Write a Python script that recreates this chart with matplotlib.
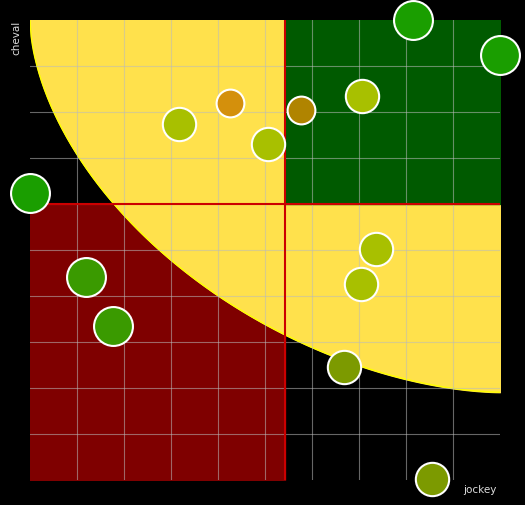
import numpy as np
import matplotlib
matplotlib.use("Agg")
import matplotlib.pyplot as plt

jockey = [8.15, 10.0, 7.06, 5.77, 4.26, 3.17, 5.06, 0.0, 1.19, 1.77, 7.36, 7.04, 6.68, 8.55]
cheval = [10.0, 9.24, 8.35, 8.04, 8.20, 7.74, 7.30, 6.24, 4.41, 3.35, 5.02, 4.26, 2.46, 0.02]
colors = ["#1a9e00", "#1a9e00", "#a8c000", "#b08400", "#d4900c", "#a8c000", "#a8c000",
          "#1a9e00", "#3a9a00", "#3a9a00", "#a8c000", "#a8c000", "#7c9a00", "#7c9a00"]
sizes = [14, 14, 12, 10, 10, 12, 12, 14, 14, 14, 12, 12, 12, 12]
x_split = 5.43
y_split = 6.0

fig = plt.figure(figsize=(5.25, 5.05), dpi=100, facecolor="black")
ax = fig.add_axes([30/525, 25/505, 470/525, 460/505])
ax.set_facecolor("black")
ax.set_xlim(0, 10)
ax.set_ylim(0, 10)

# bottom-left red
ax.fill_between([0, x_split], 0, y_split, color="#7f0000", zorder=1)
# yellow region above superellipse curve
p = 1.75
xs = np.linspace(0, 10, 400)
ys = 10 - 8.09 * (1 - (np.abs(xs - 10) / 10) ** p) ** (1 / p)
ax.fill_between(xs, ys, 10, color="#ffe14c", zorder=2)
ax.plot(xs, ys, color="#ffff00", lw=1, zorder=2)
# top-right green
ax.fill_between([x_split, 10], y_split, 10, color="#005a00", zorder=3)

for g in np.arange(1, 10):
    ax.axvline(g, color="#bbbbbb", lw=0.8, alpha=0.55, zorder=4)
    ax.axhline(g, color="#bbbbbb", lw=0.8, alpha=0.55, zorder=4)
ax.axvline(x_split, ymin=0, ymax=1, color="#cc0000", lw=1.5, zorder=5)
ax.axhline(y_split, color="#cc0000", lw=1.5, zorder=5)

for x, y, c, s in zip(jockey, cheval, colors, sizes):
    ax.plot(x, y, "o", ms=2 * s * 0.72 * 100 / 72, mfc=c, mec="white", mew=1.5,
            zorder=6, clip_on=False)

for sp in ax.spines.values():
    sp.set_visible(False)
ax.set_xticks([]); ax.set_yticks([])
fig.text(16/525, 1 - 38/505, "cheval", color="#dddddd", fontsize=7.5, rotation=90,
         ha="center", va="center")
fig.text(480/525, 1 - 490/505, "jockey", color="#dddddd", fontsize=7.5,
         ha="center", va="center")
fig.savefig("out.png", dpi=100, facecolor="black")
